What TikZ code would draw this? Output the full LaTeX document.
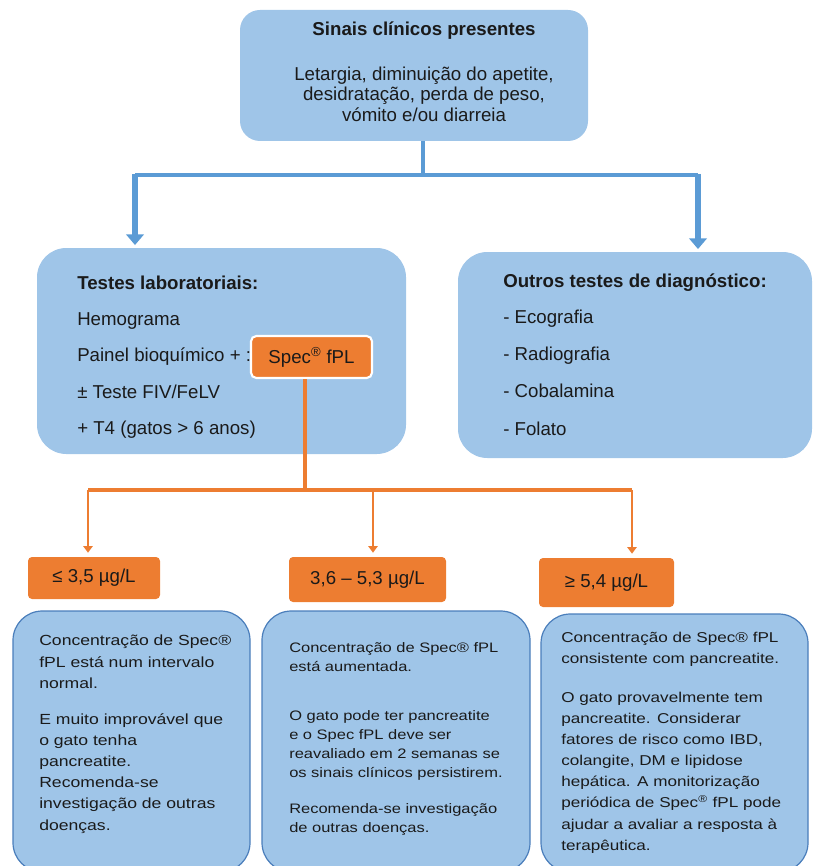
\documentclass[tikz,border=0pt]{standalone}
\usepackage{fontspec}
\setmainfont{Liberation Sans}
\newfontfamily\widefont[FakeStretch=1.2]{Liberation Sans}
\usetikzlibrary{arrows.meta,fit}
\definecolor{boxblue}{HTML}{9FC5E8}
\definecolor{edgeblue}{HTML}{4A7EBB}
\definecolor{lineblue}{HTML}{5B9BD5}
\definecolor{orng}{HTML}{ED7D31}
\definecolor{ink}{HTML}{1A1A1A}
\begin{document}
\begin{tikzpicture}[x=0.75pt,y=-0.75pt,
  bluebox/.style={fill=boxblue,inner sep=0pt,draw=none},
  lowbox/.style={fill=boxblue,inner sep=0pt,draw=edgeblue,line width=0.9pt,rounded corners=22pt},
  obox/.style={fill=orng,inner sep=0pt,rounded corners=3pt},
  otext/.style={text=ink,inner sep=0pt,font=\fontsize{14}{16}\selectfont},
  mtext/.style={font=\fontsize{14}{16}\selectfont,text=ink,inner sep=0pt,anchor=west,text height=10pt,text depth=3pt},
  mtitle/.style={mtext,font=\fontsize{14}{16}\selectfont\bfseries},
  ctext/.style={font=\fontsize{14}{15.4}\selectfont,text=ink,inner sep=0pt,align=center},
  ptext/.style={text=ink,inner sep=0pt,align=left,anchor=north west},
  pleft/.style={ptext,font=\widefont\fontsize{11}{15.9}\selectfont},
  pmid/.style={ptext,font=\widefont\fontsize{10.3}{14.25}\selectfont},
  pright/.style={ptext,font=\widefont\fontsize{10.7}{15.8}\selectfont},
  bline/.style={draw=lineblue,line width=2.4pt},
  barrow/.style={draw=lineblue,line width=4.5pt,-{Triangle[width=13pt,length=8pt]},shorten >=2pt},
  oline/.style={draw=orng,line width=2.4pt},
  oarrow/.style={draw=orng,line width=2.2pt,-{Triangle[width=7pt,length=5pt]},shorten >=3pt}]
\useasboundingbox (0,0) rectangle (817,866);
\clip (0,0) rectangle (817,866);

% top box
\node[bluebox,rounded corners=15pt,fit={(240,10) (588,141)}] (top) {};
\node[ctext,font=\fontsize{14}{15.4}\selectfont\bfseries] (toptitle) at (424,31) {Sinais clínicos presentes};
\node[ctext] (topbody) at (424,94) {Letargia, diminuição do apetite,\\desidratação, perda de peso,\\vómito e/ou diarreia};

% middle boxes
\node[bluebox,rounded corners=22pt,fit={(37,248) (406,454)}] (lab) {};
\node[bluebox,rounded corners=22pt,fit={(458,252) (812,458)}] (oth) {};

\node[mtitle] (labt) at (77,285) {Testes laboratoriais:};
\node[mtext] (lab1) at (77,321) {Hemograma};
\node[mtext] (lab2) at (77,357) {Painel bioquímico + :};
\node[mtext] (lab3) at (77,394) {± Teste FIV/FeLV};
\node[mtext] (lab4) at (77,430) {+ T4 (gatos > 6 anos)};

\node[mtitle] (otht) at (503,283) {Outros testes de diagnóstico:};
\node[mtext] (oth1) at (503,319) {- Ecografia};
\node[mtext] (oth2) at (503,356) {- Radiografia};
\node[mtext] (oth3) at (503,393) {- Cobalamina};
\node[mtext] (oth4) at (503,431) {- Folato};

\node[fill=orng,draw=white,line width=1.6pt,rounded corners=4pt,inner sep=0pt,
      fit={(251,336) (372,378)}] (spec) {};
\node[otext] (spect) at (spec.center) {Spec\textsuperscript{®} fPL};

% orange range labels
\node[obox,fit={(28,557) (160,599)}] (r1) {};
\node[obox,fit={(289,557) (446,602)}] (r2) {};
\node[obox,fit={(539,558) (674,607)}] (r3) {};
\node[otext] (r1t) at (r1.center) {≤ 3,5 µg/L};
\node[otext] (r2t) at (r2.center) {3,6 – 5,3 µg/L};
\node[otext] (r3t) at (r3.center) {≥ 5,4 µg/L};

% bottom boxes
\node[lowbox,fit={(13,611) (250,872)}] (d1) {};
\node[lowbox,fit={(262,611) (530,872)}] (d2) {};
\node[lowbox,fit={(541,614) (808,872)}] (d3) {};

\node[pleft] (d1a) at (39,635) {Concentração de Spec®\\fPL está num intervalo\\normal.};
\node[pleft] (d1b) at (39,713) {E muito improvável que\\o gato tenha\\pancreatite.\\Recomenda-se\\investigação de outras\\doenças.};

\node[pmid] (d2a) at (289,642) {Concentração de Spec® fPL\\está aumentada.};
\node[pmid] (d2b) at (289,710) {O gato pode ter pancreatite\\e o Spec fPL deve ser\\reavaliado em 2 semanas se\\os sinais clínicos persistirem.};
\node[pmid] (d2c) at (289,803) {Recomenda-se investigação\\de outras doenças.};

\node[pright] (d3a) at (561,632) {Concentração de Spec® fPL\\consistente com pancreatite.};
\node[pright] (d3b) at (561,692) {O gato provavelmente tem\\pancreatite. Considerar\\fatores de risco como IBD,\\colangite, DM e lipidose\\hepática. A monitorização\\periódica de Spec\textsuperscript{®} fPL pode\\ajudar a avaliar a resposta à\\terapêutica.};

% blue connectors
\coordinate (t0) at (423,175);
\coordinate (b1) at (135,175);
\coordinate (b2) at (698,175);
\draw[bline] (t0 |- top.south) -- (t0);
\draw[bline] (b1) -- (b2);
\draw[barrow] ([yshift=0.9pt]b1) -- (b1 |- lab.north);
\draw[barrow] ([yshift=0.9pt]b2) -- (b2 |- oth.north);

% orange connectors
\coordinate (o0) at (305,490);
\coordinate (o1) at (88,490);
\coordinate (o2) at (373,490);
\coordinate (o3) at (632,490);
\draw[oline] (o0 |- spec.south) -- (o0);
\draw[oline] (o1) -- (o3);
\draw[oarrow] (o1) -- (o1 |- r1.north);
\draw[oarrow] (o2) -- (o2 |- r2.north);
\draw[oarrow] (o3) -- (o3 |- r3.north);
\end{tikzpicture}
\end{document}
